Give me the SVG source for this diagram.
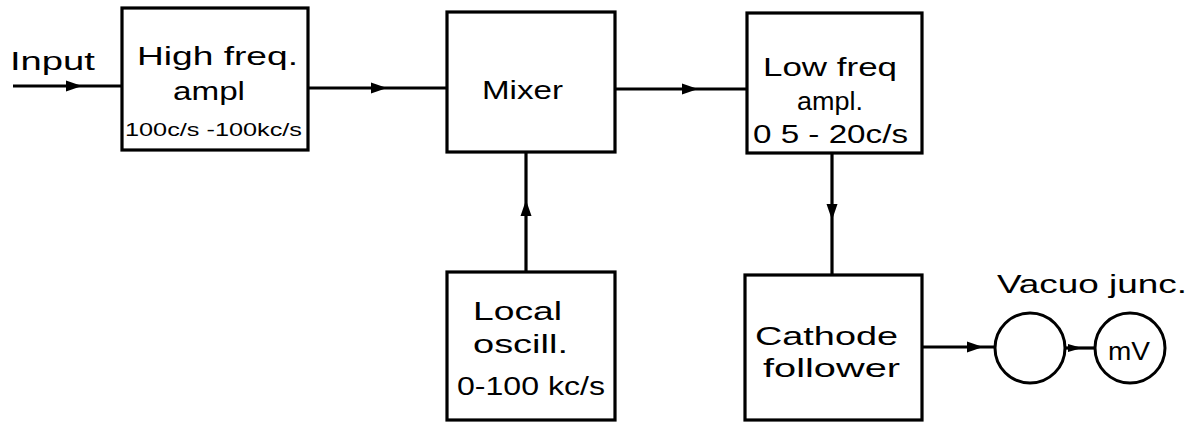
<svg xmlns="http://www.w3.org/2000/svg" width="1201" height="423" viewBox="0 0 1201 423">
<style>
.box{fill:#fff;stroke:#000;stroke-width:3.2}
.circ{fill:#fff;stroke:#000;stroke-width:3}
.wire{fill:none;stroke:#000;stroke-width:3.2}
text{font-family:"Liberation Sans",Arial,sans-serif;fill:#000;text-anchor:start}
.t{font-size:25px}
.s{font-size:19px}
</style>
<defs>
<marker id="ah" markerUnits="userSpaceOnUse" markerWidth="16" markerHeight="12" refX="16" refY="6" orient="auto"><path d="M0,0.5 L16,6 L0,11.5 z" fill="#000"/></marker>
<marker id="ahs" markerUnits="userSpaceOnUse" markerWidth="14" markerHeight="10" refX="14" refY="5" orient="auto"><path d="M0,1 L14,5 L0,9 z" fill="#000"/></marker>
</defs>
<g id="connectors">
<path class="wire" d="M13,86 L82,86 L122,86" marker-mid="url(#ah)"/>
<path class="wire" d="M308,88 L387,88 L447,88" marker-mid="url(#ah)"/>
<path class="wire" d="M615,89 L698,89 L747,89" marker-mid="url(#ah)"/>
<path class="wire" d="M526,272 L526,200 L526,152" marker-mid="url(#ah)"/>
<path class="wire" d="M832,153 L832,220 L832,275" marker-mid="url(#ah)"/>
<path class="wire" d="M922,347 L983,347 L995,347" marker-mid="url(#ah)"/>
<path class="wire" d="M1065,348 L1082,348 L1095,348" marker-mid="url(#ahs)"/>
</g>
<text id="input-label" class="t" x="10" y="70" textLength="85" lengthAdjust="spacingAndGlyphs">Input</text>
<g id="hf">
<rect class="box" x="122" y="8" width="186" height="142"/>
<text class="t" x="137" y="65" textLength="161" lengthAdjust="spacingAndGlyphs">High freq.</text>
<text class="t" x="173" y="100" textLength="72" lengthAdjust="spacingAndGlyphs">ampl</text>
<text class="s" x="125" y="136" textLength="177" lengthAdjust="spacingAndGlyphs">100c/s -100kc/s</text>
</g>
<g id="mixer">
<rect class="box" x="447" y="12" width="168" height="140"/>
<text class="t" x="482" y="99" textLength="81" lengthAdjust="spacingAndGlyphs">Mixer</text>
</g>
<g id="lf">
<rect class="box" x="747" y="13" width="175" height="140"/>
<text class="t" x="763" y="76" textLength="134" lengthAdjust="spacingAndGlyphs">Low freq</text>
<text class="t" x="797" y="110" textLength="66" lengthAdjust="spacingAndGlyphs">ampl.</text>
<text class="t" x="753" y="143" textLength="155" lengthAdjust="spacingAndGlyphs">0 5 - 20c/s</text>
</g>
<g id="lo">
<rect class="box" x="447" y="272" width="168" height="148"/>
<text class="t" x="473" y="320" textLength="89" lengthAdjust="spacingAndGlyphs">Local</text>
<text class="t" x="473" y="353" textLength="95" lengthAdjust="spacingAndGlyphs">oscill.</text>
<text class="t" x="457" y="395" textLength="148" lengthAdjust="spacingAndGlyphs">0-100 kc/s</text>
</g>
<g id="cf">
<rect class="box" x="745" y="275" width="177" height="145"/>
<text class="t" x="755" y="345" textLength="143" lengthAdjust="spacingAndGlyphs">Cathode</text>
<text class="t" x="763" y="377" textLength="137" lengthAdjust="spacingAndGlyphs">follower</text>
</g>
<g id="vj">
<circle class="circ" cx="1030" cy="348" r="35"/>
<text class="t" x="997" y="293" textLength="190" lengthAdjust="spacingAndGlyphs">Vacuo junc.</text>
</g>
<g id="mv">
<circle class="circ" cx="1130" cy="348" r="35"/>
<text class="t" x="1108" y="360" textLength="42" lengthAdjust="spacingAndGlyphs">mV</text>
</g>
</svg>
